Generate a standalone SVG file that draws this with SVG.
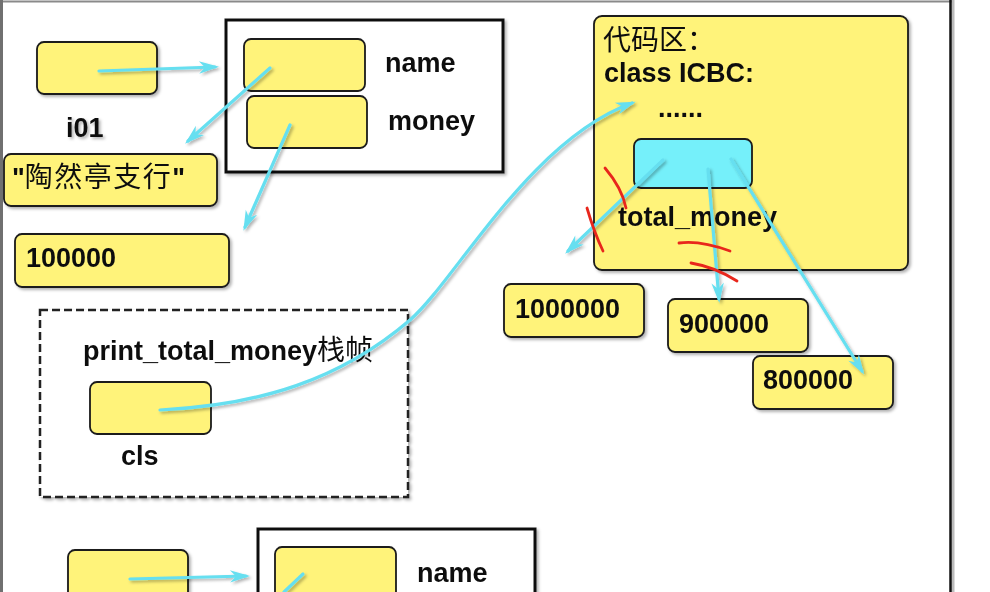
<svg xmlns="http://www.w3.org/2000/svg" width="990" height="592" viewBox="0 0 990 592">
<defs>
<filter id="sh" x="-10%" y="-10%" width="130%" height="130%">
<feDropShadow dx="2" dy="2" stdDeviation="1.5" flood-color="#000" flood-opacity="0.3"/>
</filter>
<marker id="ah" markerUnits="userSpaceOnUse" markerWidth="22" markerHeight="16" refX="17" refY="8" orient="auto" viewBox="0 0 22 16">
<path d="M21,8 L1,1.8 L7,8 L1,14.2 Z" fill="#66dff0"/>
</marker>
</defs>
<style>
.cell{fill:#fff37a;stroke:#1a1a1a;stroke-width:1.8}
.cyan{fill:#74f0fa;stroke:#1a1a1a;stroke-width:1.8}
.obj{fill:#fff;stroke:#111;stroke-width:3}
.dash{fill:#fff;stroke:#222;stroke-width:2.5;stroke-dasharray:8 4}
.lbl{font-family:"Liberation Sans",Arial,"Noto Sans CJK SC",sans-serif;font-weight:bold;font-size:27px;fill:#111}
.cjk{font-family:"Noto Sans CJK SC","Noto Sans CJK TC",sans-serif;font-weight:normal;font-size:28px;fill:#111}
.conn{fill:none;stroke:#66dff0;stroke-width:3.2;stroke-linecap:round}
.mark{fill:none;stroke:#e8261c;stroke-width:2.8;stroke-linecap:round}
</style>
<rect width="990" height="592" fill="#fff"/>
<g id="frame">
<line x1="0" y1="1.5" x2="952" y2="1.5" stroke="#8a8a8a" stroke-width="2"/>
<line x1="1.5" y1="0" x2="1.5" y2="592" stroke="#707070" stroke-width="3"/>
<line x1="953" y1="0" x2="953" y2="592" stroke="#bbb" stroke-width="3"/>
<line x1="950.5" y1="0" x2="950.5" y2="592" stroke="#111" stroke-width="2.5"/>
</g>

<g id="i01" filter="url(#sh)">
<rect class="cell" x="37" y="42" width="120" height="52" rx="7"/>
<text class="lbl" x="66" y="137">i01</text>
</g>

<g id="icbc-object" filter="url(#sh)">
<rect class="obj" x="226" y="20" width="277" height="152"/>
<rect class="cell" x="244" y="39" width="121" height="52" rx="7"/>
<rect class="cell" x="247" y="96" width="120" height="52" rx="7"/>
<text class="lbl" x="385" y="72">name</text>
<text class="lbl" x="388" y="130">money</text>
</g>

<g id="str-name" filter="url(#sh)">
<rect class="cell" x="4" y="154" width="213" height="52" rx="7"/>
<text x="12" y="187"><tspan class="lbl">"</tspan><tspan class="cjk" letter-spacing="1.5">陶然亭支行</tspan><tspan class="lbl">"</tspan></text>
</g>

<g id="val-100000" filter="url(#sh)">
<rect class="cell" x="15" y="234" width="214" height="53" rx="7"/>
<text class="lbl" x="26" y="267">100000</text>
</g>

<g id="code-area" filter="url(#sh)">
<rect class="cell" x="594" y="16" width="314" height="254" rx="8"/>
<text class="cjk" x="603" y="50">代码区：</text>
<text class="lbl" x="604" y="82">class ICBC:</text>
<text class="lbl" x="658" y="117">......</text>
<rect class="cyan" x="634" y="139" width="118" height="49" rx="7"/>
<text class="lbl" x="618" y="226">total_money</text>
</g>

<g id="val-1000000" filter="url(#sh)">
<rect class="cell" x="504" y="284" width="140" height="53" rx="7"/>
<text class="lbl" x="515" y="318">1000000</text>
</g>

<g id="val-900000" filter="url(#sh)">
<rect class="cell" x="668" y="299" width="140" height="53" rx="7"/>
<text class="lbl" x="679" y="333">900000</text>
</g>

<g id="val-800000" filter="url(#sh)">
<rect class="cell" x="753" y="356" width="140" height="53" rx="7"/>
<text class="lbl" x="763" y="389">800000</text>
</g>

<g id="frame-print" filter="url(#sh)">
<rect class="dash" x="40" y="310" width="368" height="187"/>
<text x="83" y="360"><tspan class="lbl">print_total_money</tspan><tspan class="cjk">栈帧</tspan></text>
<rect class="cell" x="90" y="382" width="121" height="52" rx="7"/>
<text class="lbl" x="121" y="465">cls</text>
</g>

<g id="i02" filter="url(#sh)">
<rect class="cell" x="68" y="550" width="120" height="60" rx="7"/>
</g>

<g id="icbc-object-2" filter="url(#sh)">
<rect class="obj" x="258" y="529" width="277" height="100"/>
<rect class="cell" x="275" y="547" width="121" height="60" rx="7"/>
<text class="lbl" x="417" y="582">name</text>
</g>

<g id="connectors" filter="url(#sh)">
<path class="conn" d="M99,71 L215,67" marker-end="url(#ah)"/>
<path class="conn" d="M270,68 L188,141" marker-end="url(#ah)"/>
<path class="conn" d="M290,125 L245,227" marker-end="url(#ah)"/>
<path class="conn" d="M160,410 C260,405 340,380 410,320 C455,281 530,140 632,103" marker-end="url(#ah)"/>
<path class="conn" d="M663,160 L568,251" marker-end="url(#ah)"/>
<path class="conn" d="M708,169 L719,299" marker-end="url(#ah)"/>
<path class="conn" d="M731,159 L862,371" marker-end="url(#ah)"/>
<path class="conn" d="M130,579 L246,576" marker-end="url(#ah)"/>
<path class="conn" d="M303,574 L284,592"/>
</g>

<g id="strike-marks">
<path class="mark" d="M605,168 Q622,188 626,208"/>
<path class="mark" d="M587,208 Q594,232 603,251"/>
<path class="mark" d="M679,243 Q700,240 730,251"/>
<path class="mark" d="M691,263 Q715,267 737,281"/>
</g>
</svg>
